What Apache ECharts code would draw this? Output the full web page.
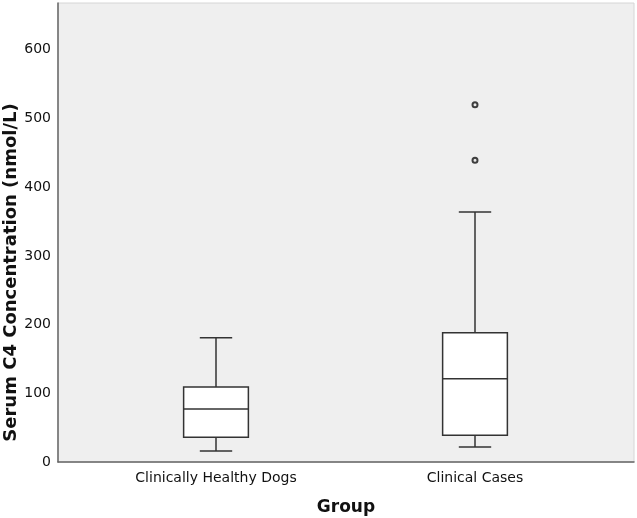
<!DOCTYPE html>
<html>
<head>
<meta charset="utf-8">
<script src="https://cdn.jsdelivr.net/npm/echarts@6/dist/echarts.min.js"></script>
<style>html,body{margin:0;padding:0;background:#fff;}#c{width:637px;height:518px;}</style>
</head>
<body>
<div id="c"></div>
<script>
const categories = ['Clinically Healthy Dogs', 'Clinical Cases'];
const whiskerLow = [16, 22];
const q1 = [36, 39];
const median = [77, 121];
const q3 = [109, 188];
const whiskerHigh = [181, 364];
const outliers = [[1, 439], [1, 520]];
const yTicks = [0, 100, 200, 300, 400, 500, 600];

const boxData = categories.map((c, i) => [i, whiskerLow[i], q1[i], median[i], q3[i], whiskerHigh[i]]);

const chart = echarts.init(document.getElementById('c'), null, {renderer: 'canvas'});
const FONT = 'DejaVu Sans';
const lineColor = '#333';

chart.setOption({
  animation: false,
  backgroundColor: '#fff',
  grid: [
    {left: 58, right: 3, top: 3, bottom: 56, show: true, backgroundColor: '#efefef', borderColor: '#d6d6d6', borderWidth: 1, outerBoundsMode: 'none', containLabel: false},
    {left: 86.5, right: 32.5, top: 3, bottom: 56, outerBoundsMode: 'none', containLabel: false}
  ],
  xAxis: [
    {
      type: 'category', gridIndex: 0, data: ['', ''],
      axisLine: {show: true, lineStyle: {color: '#666', width: 1.5}},
      axisTick: {show: false}, axisLabel: {show: false}, splitLine: {show: false},
      name: 'Group', nameLocation: 'middle', nameGap: 37, nameMoveOverlap: false,
      nameTextStyle: {fontFamily: FONT, fontSize: 17, fontWeight: 'bold', color: '#111'}
    },
    {
      type: 'category', gridIndex: 1, data: categories,
      axisLine: {show: false}, axisTick: {show: false}, splitLine: {show: false},
      axisLabel: {fontFamily: FONT, fontSize: 14, color: '#111', margin: 9, interval: 0}
    }
  ],
  yAxis: [
    {
      type: 'value', gridIndex: 0, min: 0, max: 668, interval: 100,
      axisLine: {show: true, lineStyle: {color: '#666', width: 1.5}},
      axisTick: {show: false}, splitLine: {show: false},
      axisLabel: {fontFamily: FONT, fontSize: 14, color: '#111', margin: 7, showMaxLabel: false,
        formatter: v => (yTicks.indexOf(v) >= 0 ? String(v) : '')},
      name: 'Serum C4 Concentration (nmol/L)', nameLocation: 'middle', nameGap: 38, nameMoveOverlap: false,
      nameTextStyle: {fontFamily: FONT, fontSize: 18, fontWeight: 'bold', color: '#111', padding: [0, 80, 0, 0]}
    },
    {
      type: 'value', gridIndex: 1, min: 0, max: 668, interval: 100, show: false,
      splitLine: {show: false}
    }
  ],
  series: [
    {
      type: 'custom', xAxisIndex: 1, yAxisIndex: 1,
      data: boxData,
      encode: {x: 0, y: [1, 2, 3, 4, 5]},
      renderItem: function (params, api) {
        const idx = api.value(0);
        const band = api.size([1, 0])[0];
        const bw = band * 0.25, cw = band * 0.125;
        const pLow = api.coord([idx, api.value(1)]);
        const pQ1 = api.coord([idx, api.value(2)]);
        const pMed = api.coord([idx, api.value(3)]);
        const pQ3 = api.coord([idx, api.value(4)]);
        const pHigh = api.coord([idx, api.value(5)]);
        const x = pMed[0];
        const st = {stroke: lineColor, lineWidth: 1.5, fill: null};
        return {
          type: 'group',
          children: [
            {type: 'line', shape: {x1: x, y1: pLow[1], x2: x, y2: pQ1[1]}, style: st},
            {type: 'line', shape: {x1: x, y1: pQ3[1], x2: x, y2: pHigh[1]}, style: st},
            {type: 'line', shape: {x1: x - cw / 2, y1: pLow[1], x2: x + cw / 2, y2: pLow[1]}, style: st},
            {type: 'line', shape: {x1: x - cw / 2, y1: pHigh[1], x2: x + cw / 2, y2: pHigh[1]}, style: st},
            {type: 'rect', shape: {x: x - bw / 2, y: pQ3[1], width: bw, height: pQ1[1] - pQ3[1]},
              style: {stroke: lineColor, lineWidth: 1.5, fill: '#fff'}},
            {type: 'line', shape: {x1: x - bw / 2, y1: pMed[1], x2: x + bw / 2, y2: pMed[1]}, style: st}
          ]
        };
      }
    },
    {
      type: 'scatter', xAxisIndex: 1, yAxisIndex: 1,
      data: outliers,
      symbol: 'circle', symbolSize: 5,
      itemStyle: {color: '#e8e8e8', borderColor: '#111', borderWidth: 2}
    }
  ]
});
</script>
</body>
</html>
